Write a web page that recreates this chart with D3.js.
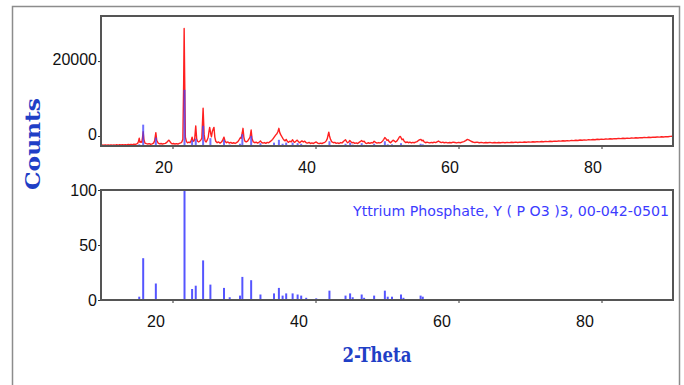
<!DOCTYPE html>
<html><head><meta charset="utf-8">
<script src="https://cdnjs.cloudflare.com/ajax/libs/d3/7.8.5/d3.min.js"></script>
<style>body{margin:0;background:#fff}svg{display:block}</style>
</head><body><div id="chart"></div>
<script>
// ---- data ----
const xTicks = [20, 40, 60, 80];
const topYTicks = [0, 20000];
const botYTicks = [0, 50, 100];
const refLabel = "Yttrium Phosphate, Y ( P O3 )3, 00-042-0501";
// reference stick pattern 00-042-0501 (2θ, relative intensity %)
const stickTheta = [15.35,15.9,17.67,21.68,22.74,23.25,24.28,25.3,27.2,28.0,29.44,29.77,31.0,32.3,34.2,34.88,35.4,35.9,36.8,37.5,38.0,38.7,40.1,41.95,44.2,44.84,45.2,46.46,46.8,48.2,49.7,50.1,50.7,51.96,52.3,54.7,55.0];
const stickInt   = [3,38,15,100,10,13,36,14,11,2.5,4,21,18,5,6,11,4,6,6,5,4,2,1.5,8.5,4,6,2.5,5,2,4,8.5,3,3,5,2,4,3];
// measured pattern [2θ, counts]
const scanPoints = [
[10.0,-2500],[10.2,-2420],[10.4,-2480],[10.6,-2380],[10.8,-2460],[11.0,-2400],[11.2,-2470],[11.4,-2360],[11.6,-2440],[11.8,-2380],
[12.0,-2450],[12.2,-2340],[12.4,-2420],[12.6,-2330],[12.8,-2400],[13.0,-2300],[13.2,-2380],[13.4,-2290],[13.6,-2360],[13.8,-2250],
[14.0,-2330],[14.2,-2220],[14.4,-2290],[14.6,-2200],[14.8,-2260],[15.0,-2100],[15.15,-1900],[15.25,-1400],[15.35,-600],[15.45,-1700],
[15.6,-1500],[15.7,-1700],[15.8,-500],[15.9,1150],[16.0,-900],[16.15,-1900],[16.35,-2050],[16.55,-2150],[16.75,-2050],[16.95,-2200],
[17.15,-2100],[17.35,-1900],[17.5,-1300],[17.67,900],[17.8,-1200],[18.0,-1900],[18.2,-2100],[18.4,-2000],[18.6,-2150],[18.8,-2050],
[19.0,-1950],[19.2,-1700],[19.4,-1250],[19.5,-1100],[19.6,-1350],[19.75,-1800],[19.95,-2100],[20.15,-2000],[20.35,-2150],[20.55,-2050],
[20.75,-2150],[20.95,-1950],[21.15,-1850],[21.3,-1600],[21.45,-900],[21.56,14000],[21.63,28700],[21.7,16000],[21.8,-300],[21.95,-1500],
[22.1,-1800],[22.3,-1650],[22.45,-1800],[22.6,-1300],[22.74,-300],[22.88,-1400],[23.0,-1300],[23.1,-900],[23.25,2700],[23.38,-700],
[23.5,-1400],[23.65,-1600],[23.8,-1400],[23.95,-1100],[24.1,-600],[24.28,7400],[24.42,500],[24.55,-1300],[24.7,-1600],[24.85,-1100],
[25.0,-300],[25.1,1200],[25.2,2300],[25.35,600],[25.45,-200],[25.58,1300],[25.7,1900],[25.8,2300],[25.92,-300],[26.05,-1400],
[26.25,-1800],[26.45,-1600],[26.65,-1900],[26.85,-1600],[27.0,-1200],[27.2,-300],[27.35,-1400],[27.55,-1800],[27.75,-1600],[27.95,-1900],
[28.15,-1700],[28.35,-1950],[28.55,-1800],[28.75,-2000],[28.95,-1750],[29.15,-1500],[29.35,-900],[29.5,-400],[29.6,-600],[29.75,800],
[29.86,2050],[29.98,-300],[30.1,-1300],[30.3,-1600],[30.5,-1400],[30.7,-800],[30.85,-300],[31.0,1600],[31.12,-700],[31.3,-1600],
[31.5,-1800],[31.7,-1650],[31.9,-1900],[32.1,-1700],[32.3,-1300],[32.45,-1700],[32.65,-1900],[32.85,-1750],[33.05,-1950],[33.25,-1700],
[33.45,-1800],[33.65,-1500],[33.85,-1200],[34.0,-900],[34.15,-500],[34.3,-100],[34.45,300],[34.6,600],[34.75,1200],[34.88,2050],
[35.0,900],[35.15,300],[35.3,-200],[35.45,-700],[35.6,-1100],[35.75,-1300],[35.9,-900],[36.05,-1400],[36.2,-1700],[36.4,-1400],
[36.6,-1600],[36.8,-1000],[36.95,-1500],[37.1,-1700],[37.3,-1300],[37.45,-1100],[37.6,-1500],[37.8,-1800],[37.95,-1500],[38.1,-1300],
[38.3,-1600],[38.5,-1400],[38.7,-1800],[38.9,-1900],[39.1,-1700],[39.3,-2000],[39.5,-1850],[39.7,-2000],[39.9,-1800],[40.1,-1600],
[40.3,-1900],[40.5,-2050],[40.7,-1900],[40.9,-2000],[41.1,-1850],[41.3,-1700],[41.5,-1300],[41.65,-700],[41.78,400],[41.86,1000],
[41.96,0],[42.1,-900],[42.3,-1600],[42.5,-1800],[42.7,-1700],[42.9,-1950],[43.1,-1850],[43.3,-2000],[43.5,-1750],[43.7,-1850],
[43.9,-1500],[44.05,-1200],[44.2,-1000],[44.35,-1500],[44.5,-1800],[44.65,-1600],[44.8,-1200],[44.95,-1500],[45.1,-1800],[45.3,-1700],
[45.5,-1950],[45.7,-1850],[45.9,-2000],[46.1,-1700],[46.3,-1450],[46.45,-1200],[46.6,-1500],[46.8,-1400],[47.0,-1900],[47.2,-2000],
[47.4,-1800],[47.6,-1950],[47.8,-1750],[48.0,-1850],[48.2,-1400],[48.4,-1700],[48.6,-1900],[48.8,-1750],[49.0,-1850],[49.2,-1700],
[49.4,-1300],[49.55,-900],[49.7,-400],[49.85,-700],[50.0,-1200],[50.15,-1000],[50.3,-1500],[50.5,-1800],[50.7,-1400],[50.85,-1100],
[51.0,-1300],[51.2,-1600],[51.4,-1300],[51.6,-700],[51.75,-200],[51.85,-100],[51.95,-400],[52.1,-1000],[52.25,-800],[52.4,-1400],
[52.6,-1750],[52.8,-1600],[53.0,-1800],[53.2,-1650],[53.4,-1850],[53.6,-1700],[53.8,-1800],[54.0,-1650],[54.2,-1500],[54.4,-1200],
[54.6,-1000],[54.75,-900],[54.9,-1300],[55.05,-1100],[55.2,-1600],[55.4,-1800],[55.6,-1650],[55.8,-1750],[56.0,-1850],[56.2,-1700],
[56.4,-1800],[56.6,-1650],[56.8,-1750],[57.0,-1550],[57.2,-1350],[57.4,-1600],[57.6,-1750],[57.8,-1650],[58.0,-1800],[58.25,-1700],
[58.5,-1850],[58.75,-1750],[59.0,-1800],[59.25,-1650],[59.5,-1750],[59.75,-1850],[60.0,-1700],[60.25,-1800],[60.5,-1650],[60.75,-1500],
[61.0,-1250],[61.25,-900],[61.5,-1100],[61.75,-1400],[62.0,-1600],[62.3,-1750],[62.6,-1650],[62.9,-1800],[63.2,-1700],[63.5,-1850],
[63.8,-1750],[64.1,-1800],[64.4,-1700],[64.7,-1850],[65.0,-1750],[65.3,-1820],[65.6,-1720],[65.9,-1800],[66.2,-1700],[66.5,-1790],
[66.8,-1690],[67.1,-1760],[67.4,-1680],[67.7,-1740],[68.0,-1650],[68.3,-1730],[68.6,-1640],[68.9,-1700],[69.2,-1610],[69.5,-1680],
[69.8,-1580],[70.1,-1640],[70.4,-1540],[70.7,-1610],[71.0,-1510],[71.3,-1570],[71.6,-1480],[71.9,-1540],[72.2,-1440],[72.5,-1500],
[72.8,-1400],[73.1,-1460],[73.4,-1360],[73.7,-1420],[74.0,-1320],[74.3,-1380],[74.6,-1280],[74.9,-1330],[75.2,-1230],[75.5,-1290],
[75.8,-1180],[76.1,-1240],[76.4,-1130],[76.7,-1190],[77.0,-1080],[77.3,-1140],[77.6,-1030],[77.9,-1090],[78.2,-980],[78.5,-1040],
[78.8,-930],[79.1,-990],[79.4,-880],[79.7,-940],[80.0,-830],[80.3,-890],[80.6,-790],[80.9,-840],[81.2,-740],[81.5,-800],
[81.8,-700],[82.1,-750],[82.4,-650],[82.7,-710],[83.0,-610],[83.3,-660],[83.6,-560],[83.9,-620],[84.2,-520],[84.5,-570],
[84.8,-470],[85.1,-530],[85.4,-430],[85.7,-480],[86.0,-380],[86.3,-440],[86.6,-340],[86.9,-390],[87.2,-290],[87.5,-350],
[87.8,-250],[88.1,-300],[88.4,-200],[88.7,-260],[89.0,-160],[89.3,-210],[89.6,-110],[90.0,-80]
];

// ---- layout ----
const W = 684, H = 385;
const L = 101, R = 673;
const top1 = 16, bot1 = 146, top2 = 190, bot2 = 300;
const blue = "#1f3fc6";

const svg = d3.select("#chart").append("svg").attr("width", W).attr("height", H);

// outer frame
svg.append("rect").attr("x", 12.5).attr("y", 6.5).attr("width", 667).attr("height", 420)
  .attr("fill", "none").attr("stroke", "#8c8c8c").attr("stroke-width", 1.5);

const x = d3.scaleLinear().domain([10, 90]).range([L, R]);
const yTop = d3.scaleLinear().domain([-2670, 32040]).range([bot1, top1]);
const yBot = d3.scaleLinear().domain([0, 100]).range([bot2, top2]);
// height of reference sticks in the upper panel, percentage mapped to counts
const stickTopScale = d3.scaleLinear().domain([0, 100]).range([-2670, 12330]);

const tickFont = "'Liberation Sans', Arial, sans-serif";

function styleAxis(g, dx, dy) {
  g.selectAll(".domain").remove();
  g.selectAll("line").attr("stroke", "#333");
  g.selectAll("text").attr("font-family", tickFont).attr("font-size", 16).attr("fill", "#111");
  if (dx) g.selectAll("text").attr("dx", dx);
  if (dy) g.selectAll("text").attr("transform", `translate(0,${dy})`);
}

// ---- top panel ----
svg.append("clipPath").attr("id", "c1").append("rect")
  .attr("x", L).attr("y", top1).attr("width", R - L).attr("height", bot1 - top1);
const p1 = svg.append("g").attr("clip-path", "url(#c1)");
const line = d3.line().x(d => x(d[0])).y(d => yTop(d[1]));
p1.append("path").datum(scanPoints).attr("d", line).attr("fill", "none")
  .attr("stroke", "#ff2020").attr("stroke-width", 1.4).attr("stroke-linejoin", "round");
p1.selectAll("line.st").data(stickInt).join("line").attr("class", "st")
  .attr("x1", (d, i) => x(stickTheta[i])).attr("x2", (d, i) => x(stickTheta[i]))
  .attr("y1", yTop(-2670)).attr("y2", d => yTop(stickTopScale(d)))
  .attr("stroke", "#4040ff").attr("stroke-opacity", 0.75).attr("stroke-width", 2);

svg.append("g").attr("transform", `translate(0,${bot1})`)
  .call(d3.axisBottom(x).tickValues(xTicks).tickFormat(d3.format("d")).tickSize(3).tickPadding(13))
  .call(g => styleAxis(g, -9, 0));
svg.append("g").attr("transform", `translate(${L},0)`)
  .call(d3.axisLeft(yTop).tickValues(topYTicks).tickFormat(d3.format("d")).tickSize(3).tickPadding(1))
  .call(g => styleAxis(g, 0, -1.5));
svg.append("rect").attr("x", L).attr("y", top1).attr("width", R - L).attr("height", bot1 - top1)
  .attr("fill", "none").attr("stroke", "#555").attr("stroke-width", 2);

// ---- bottom panel ----
svg.append("g").selectAll("line").data(stickInt).join("line")
  .attr("x1", (d, i) => x(stickTheta[i])).attr("x2", (d, i) => x(stickTheta[i]))
  .attr("y1", yBot(0)).attr("y2", d => yBot(d))
  .attr("stroke", "#5555ff").attr("stroke-width", 2);

svg.append("g").attr("transform", `translate(0,${bot2})`)
  .call(d3.axisBottom(x).tickValues(xTicks).tickFormat(d3.format("d")).tickSize(3).tickPadding(13))
  .call(g => styleAxis(g, -17, 0));
svg.append("g").attr("transform", `translate(${L},0)`)
  .call(d3.axisLeft(yBot).tickValues(botYTicks).tickFormat(d3.format("d")).tickSize(3).tickPadding(1))
  .call(g => styleAxis(g, 0, 0));
svg.append("rect").attr("x", L).attr("y", top2).attr("width", R - L).attr("height", bot2 - top2)
  .attr("fill", "none").attr("stroke", "#555").attr("stroke-width", 2);

svg.append("text").attr("x", 669).attr("y", 216).attr("text-anchor", "end")
  .attr("font-family", "'Comic Sans MS', 'DejaVu Sans', sans-serif").attr("font-size", 14)
  .attr("fill", "#3c3cff").attr("textLength", 316).attr("lengthAdjust", "spacingAndGlyphs")
  .text(refLabel);

// ---- axis titles ----
svg.append("text").attr("transform", "translate(40,144) rotate(-90)").attr("text-anchor", "middle")
  .attr("font-family", "'DejaVu Serif', serif").attr("font-weight", "bold").attr("font-size", 21)
  .attr("fill", blue).attr("textLength", 92).attr("lengthAdjust", "spacingAndGlyphs").text("Counts");
svg.append("text").attr("x", 377).attr("y", 362).attr("text-anchor", "middle")
  .attr("font-family", "'DejaVu Serif', serif").attr("font-weight", "bold").attr("font-size", 21)
  .attr("fill", blue).attr("textLength", 69).attr("lengthAdjust", "spacingAndGlyphs").text("2-Theta");
</script></body></html>
